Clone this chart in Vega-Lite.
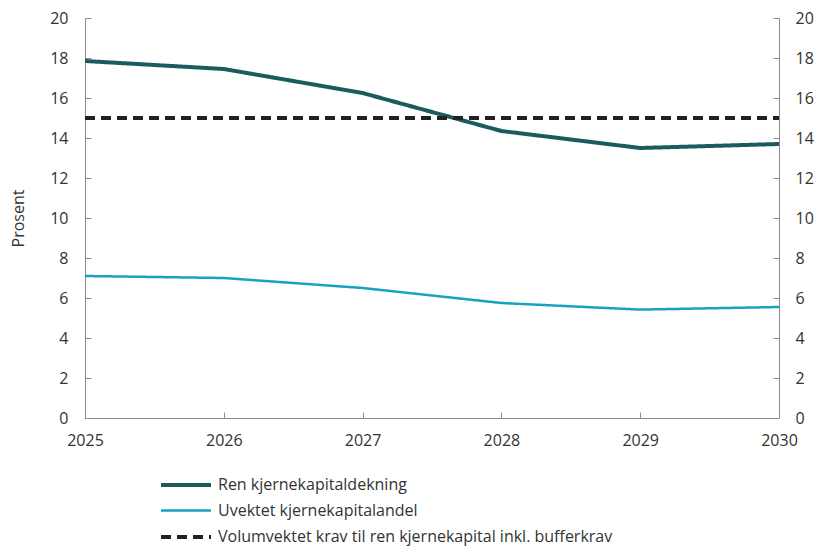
{
  "$schema": "https://vega.github.io/schema/vega-lite/v6.json",
  "width": 694,
  "height": 400,
  "autosize": {"type": "none"},
  "padding": {"left": 85, "top": 18, "right": 45, "bottom": 128},
  "background": "white",
  "config": {
    "font": "Open Sans",
    "view": {"stroke": null},
    "axis": {"labelFont": "Open Sans", "labelFontSize": 16, "labelColor": "#333333", "titleFont": "Open Sans", "titleFontSize": 16, "titleColor": "#333333", "titleFontWeight": "normal", "domainColor": "#8c8c8c", "tickColor": "#8c8c8c", "grid": false},
    "legend": {"title": null, "orient": "none", "legendX": 89, "legendY": 455, "direction": "vertical", "labelFontSize": 16, "labelFont": "Open Sans", "labelColor": "#333333", "symbolType": "M-2.5,0H2.5", "symbolSize": 400, "labelOffset": 20, "rowPadding": 6, "labelLimit": 1000}
  },
  "data": {
    "values": [
      {"year": 2025, "value": 17.85, "series": "Ren kjernekapitaldekning"},
      {"year": 2026, "value": 17.45, "series": "Ren kjernekapitaldekning"},
      {"year": 2027, "value": 16.25, "series": "Ren kjernekapitaldekning"},
      {"year": 2028, "value": 14.35, "series": "Ren kjernekapitaldekning"},
      {"year": 2029, "value": 13.5, "series": "Ren kjernekapitaldekning"},
      {"year": 2030, "value": 13.7, "series": "Ren kjernekapitaldekning"},
      {"year": 2025, "value": 7.1, "series": "Uvektet kjernekapitalandel"},
      {"year": 2026, "value": 7.0, "series": "Uvektet kjernekapitalandel"},
      {"year": 2027, "value": 6.5, "series": "Uvektet kjernekapitalandel"},
      {"year": 2028, "value": 5.75, "series": "Uvektet kjernekapitalandel"},
      {"year": 2029, "value": 5.42, "series": "Uvektet kjernekapitalandel"},
      {"year": 2030, "value": 5.55, "series": "Uvektet kjernekapitalandel"},
      {"year": 2025, "value": 15, "series": "Volumvektet krav til ren kjernekapital inkl. bufferkrav"},
      {"year": 2030, "value": 15, "series": "Volumvektet krav til ren kjernekapital inkl. bufferkrav"}
    ]
  },
  "layer": [
    {
      "mark": {"type": "line", "interpolate": "linear", "strokeCap": "butt", "strokeJoin": "round"},
      "encoding": {
        "x": {"field": "year", "type": "quantitative", "scale": {"domain": [2025, 2030], "nice": false, "zero": false},
          "axis": {"title": null, "format": "d", "values": [2025, 2026, 2027, 2028, 2029, 2030], "tickSize": -6, "labelPadding": 20, "labelFlush": false}},
        "y": {"field": "value", "type": "quantitative", "scale": {"domain": [0, 20], "nice": false},
          "axis": {"title": "Prosent", "values": [0, 2, 4, 6, 8, 10, 12, 14, 16, 18, 20], "tickSize": -6, "labelPadding": 23, "titlePadding": 23}},
        "color": {"field": "series", "type": "nominal",
          "scale": {"domain": ["Ren kjernekapitaldekning", "Uvektet kjernekapitalandel", "Volumvektet krav til ren kjernekapital inkl. bufferkrav"], "range": ["#1b5a5f", "#17a3c0", "#222222"]}},
        "strokeDash": {"field": "series", "type": "nominal",
          "scale": {"domain": ["Ren kjernekapitaldekning", "Uvektet kjernekapitalandel", "Volumvektet krav til ren kjernekapital inkl. bufferkrav"], "range": [[1, 0], [1, 0], [10, 6]]}},
        "strokeWidth": {"field": "series", "type": "nominal",
          "scale": {"type": "ordinal", "domain": ["Ren kjernekapitaldekning", "Uvektet kjernekapitalandel", "Volumvektet krav til ren kjernekapital inkl. bufferkrav"], "range": [4, 2.5, 4]}}
      }
    },
    {
      "mark": {"type": "rule", "opacity": 0},
      "encoding": {
        "y": {"field": "value", "type": "quantitative", "aggregate": "max",
          "axis": {"orient": "right", "title": null, "values": [0, 2, 4, 6, 8, 10, 12, 14, 16, 18, 20], "tickSize": -6, "labelPadding": 22}}
      }
    }
  ],
  "resolve": {"scale": {"y": "shared"}, "axis": {"y": "independent"}}
}
